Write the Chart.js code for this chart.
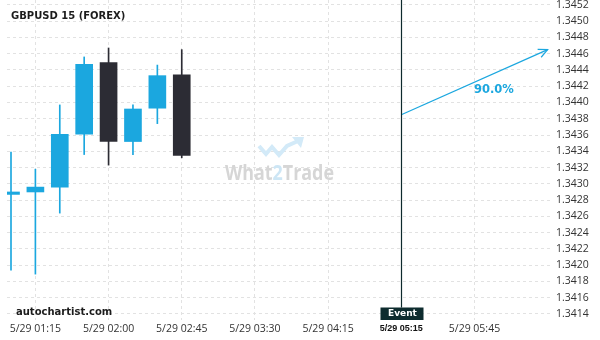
<!DOCTYPE html>
<html>
<head>
<meta charset="utf-8">
<title>GBPUSD 15 (FOREX)</title>
<script src="https://cdn.jsdelivr.net/npm/chart.js@4.4.1/dist/chart.umd.min.js"></script>
<style>
  html, body { margin: 0; padding: 0; background: #fff; }
  #wrap { position: relative; width: 600px; height: 340px; }
</style>
</head>
<body>
<div id="wrap"><canvas id="chart" width="600" height="340"></canvas></div>
<script>
// x = number of 15 min bars after 5/29 01:00
var slots  = [0, 1, 2, 3, 4, 5, 6, 7];
var opens  = [1.34287, 1.34290, 1.34296, 1.34361, 1.34449, 1.34352, 1.34393, 1.34434];
var closes = [1.34290, 1.34296, 1.34361, 1.34447, 1.34352, 1.34392, 1.34433, 1.34335];
var highs  = [1.34339, 1.34318, 1.34397, 1.34456, 1.34467, 1.34397, 1.34446, 1.34465];
var lows   = [1.34194, 1.34189, 1.34264, 1.34336, 1.34323, 1.34336, 1.34374, 1.34332];

var yTicks = [1.3414, 1.3416, 1.3418, 1.3420, 1.3422, 1.3424, 1.3426, 1.3428, 1.3430, 1.3432,
              1.3434, 1.3436, 1.3438, 1.3440, 1.3442, 1.3444, 1.3446, 1.3448, 1.3450, 1.3452];
var xTickSlots  = [1, 4, 7, 10, 13, 16, 19];
var xTickLabels = ["5/29 01:15", "5/29 02:00", "5/29 02:45", "5/29 03:30", "5/29 04:15", "5/29 05:15", "5/29 05:45"];

var eventSlot = 16;
var eventLabel = "Event";
var forecastX = [16, 22];
var forecastY = [1.34385, 1.34465];
var forecastLabel = "90.0%";

var BLUE = "#1ba7df";
var DARK = "#2c2c34";
var GRID = "#e2e2e2";

function candleColor(i) {
  return closes[i] >= opens[i] ? BLUE : DARK;
}

var bodies = slots.map(function (s, i) { return { x: s, y: [opens[i], closes[i]] }; });
var wicks  = slots.map(function (s, i) { return { x: s, y: [lows[i], highs[i]] }; });
var forecast = forecastX.map(function (x, i) { return { x: x, y: forecastY[i] }; });

// no extra room for the outer tick labels, the plot runs to the canvas edge
function noPad(scale) {
  scale.paddingTop = 0;
  scale.paddingBottom = 0;
  scale.paddingLeft = 0;
  scale.paddingRight = 0;
}

var overlay = {
  id: "overlay",
  beforeDatasetsDraw: function (chart) {
    // what2trade watermark
    var ctx = chart.ctx;
    ctx.save();
    ctx.strokeStyle = "#d3eaf8";
    ctx.lineWidth = 4;
    ctx.lineJoin = "miter";
    ctx.beginPath();
    ctx.moveTo(259, 146);
    ctx.lineTo(266, 154);
    ctx.lineTo(272, 147);
    ctx.lineTo(279, 155);
    ctx.lineTo(287, 146);
    ctx.lineTo(298, 141);
    ctx.stroke();
    ctx.fillStyle = "#d3eaf8";
    ctx.beginPath();
    ctx.moveTo(304, 137);
    ctx.lineTo(292, 137);
    ctx.lineTo(301, 148);
    ctx.closePath();
    ctx.fill();

    ctx.font = "bold 22px 'Open Sans'";
    ctx.textBaseline = "alphabetic";
    var parts = [["What", "#d6d6d6"], ["2", "#cde6f5"], ["Trade", "#d6d6d6"]];
    var total = 0;
    parts.forEach(function (p) { total += ctx.measureText(p[0]).width; });
    var sx = 109 / total;
    ctx.translate(225, 180);
    ctx.scale(sx, 1);
    var x = 0;
    parts.forEach(function (p) {
      ctx.fillStyle = p[1];
      ctx.fillText(p[0], x, 0);
      x += ctx.measureText(p[0]).width;
    });
    ctx.restore();
  },
  afterDatasetsDraw: function (chart) {
    var ctx = chart.ctx;
    var xs = chart.scales.x, ys = chart.scales.y;
    var area = chart.chartArea;
    ctx.save();

    // event marker
    var ex = Math.round(xs.getPixelForValue(eventSlot)) + 0.5;
    var boxTop = area.bottom - 12.5;
    ctx.strokeStyle = "#0e2a2d";
    ctx.lineWidth = 1.2;
    ctx.beginPath();
    ctx.moveTo(ex, area.top);
    ctx.lineTo(ex, boxTop);
    ctx.stroke();
    ctx.fillStyle = "#0e2c2f";
    ctx.fillRect(ex - 21, boxTop, 43, 12.5);
    ctx.fillStyle = "#ffffff";
    ctx.font = "bold 9px 'DejaVu Sans'";
    ctx.textAlign = "center";
    ctx.textBaseline = "middle";
    ctx.fillText(eventLabel, ex + 1, boxTop + 6.5);

    // forecast arrowhead and label
    var x0 = xs.getPixelForValue(forecastX[0]), y0 = ys.getPixelForValue(forecastY[0]);
    var x1 = xs.getPixelForValue(forecastX[1]), y1 = ys.getPixelForValue(forecastY[1]);
    var ang = Math.atan2(y1 - y0, x1 - x0);
    ctx.strokeStyle = BLUE;
    ctx.lineWidth = 1.2;
    ctx.beginPath();
    ctx.moveTo(x1 - 10 * Math.cos(ang - 0.45), y1 - 10 * Math.sin(ang - 0.45));
    ctx.lineTo(x1, y1);
    ctx.lineTo(x1 - 10 * Math.cos(ang + 0.45), y1 - 10 * Math.sin(ang + 0.45));
    ctx.stroke();
    ctx.fillStyle = BLUE;
    ctx.font = "bold 11.5px 'DejaVu Sans'";
    ctx.textAlign = "left";
    ctx.textBaseline = "alphabetic";
    ctx.fillText(forecastLabel, 474, 93);

    // title and source
    ctx.fillStyle = "#1c1c1c";
    ctx.font = "bold 10px 'DejaVu Sans'";
    ctx.fillText("GBPUSD 15 (FOREX)", 11, 18.5);
    ctx.fillText("autochartist.com", 16, 315);
    ctx.restore();
  }
};

new Chart(document.getElementById("chart").getContext("2d"), {
  type: "bar",
  data: {
    datasets: [
      {
        label: "body",
        data: bodies,
        backgroundColor: slots.map(function (s, i) { return candleColor(i); }),
        barThickness: 17,
        grouped: false,
        order: 1,
      },
      {
        label: "wick",
        data: wicks,
        backgroundColor: slots.map(function (s, i) { return candleColor(i); }),
        barThickness: 1,
        grouped: false,
        order: 2,
      },
      {
        type: "line",
        label: "forecast",
        data: forecast,
        borderColor: BLUE,
        borderWidth: 1.2,
        pointRadius: 0,
        fill: false,
        order: 0,
      },
    ],
  },
  options: {
    responsive: false,
    animation: false,
    layout: { padding: { left: 7, top: 0, right: 0, bottom: 0 } },
    plugins: {
      legend: { display: false },
      tooltip: { enabled: false },
    },
    scales: {
      x: {
        type: "linear",
        position: "bottom",
        min: -0.164,
        max: 22.22,
        offset: false,
        border: { display: false, dash: [3, 3] },
        grid: {
          offset: false,
          color: GRID,
          drawTicks: false,
        },
        afterBuildTicks: function (scale) {
          scale.ticks = xTickSlots.map(function (v) { return { value: v }; });
        },
        afterFit: function (scale) { scale.height = 20; noPad(scale); },
        ticks: {
          autoSkip: false,
          maxRotation: 0,
          padding: 3,
          color: function (c) { return c.tick && c.tick.value === eventSlot ? "#111" : "#333"; },
          font: function (c) {
            if (c.tick && c.tick.value === eventSlot) {
              return { family: "'Liberation Sans'", size: 9, weight: "bold" };
            }
            return { family: "'Open Sans'", size: 10.5 };
          },
          callback: function (value, index) { return xTickLabels[index]; },
        },
      },
      y: {
        type: "linear",
        position: "right",
        min: 1.341326,
        max: 1.345260,
        beginAtZero: false,
        border: { display: false, dash: [3, 3] },
        grid: {
          color: GRID,
          drawTicks: false,
        },
        afterBuildTicks: function (scale) {
          scale.ticks = yTicks.map(function (v) { return { value: v }; });
        },
        afterFit: function (scale) { scale.width = 47; noPad(scale); },
        ticks: {
          padding: 3,
          color: "#333",
          font: { family: "'Open Sans'", size: 10.5 },
          callback: function (value) { return Number(value).toFixed(4); },
        },
      },
    },
  },
  plugins: [overlay],
});
</script>
</body>
</html>
